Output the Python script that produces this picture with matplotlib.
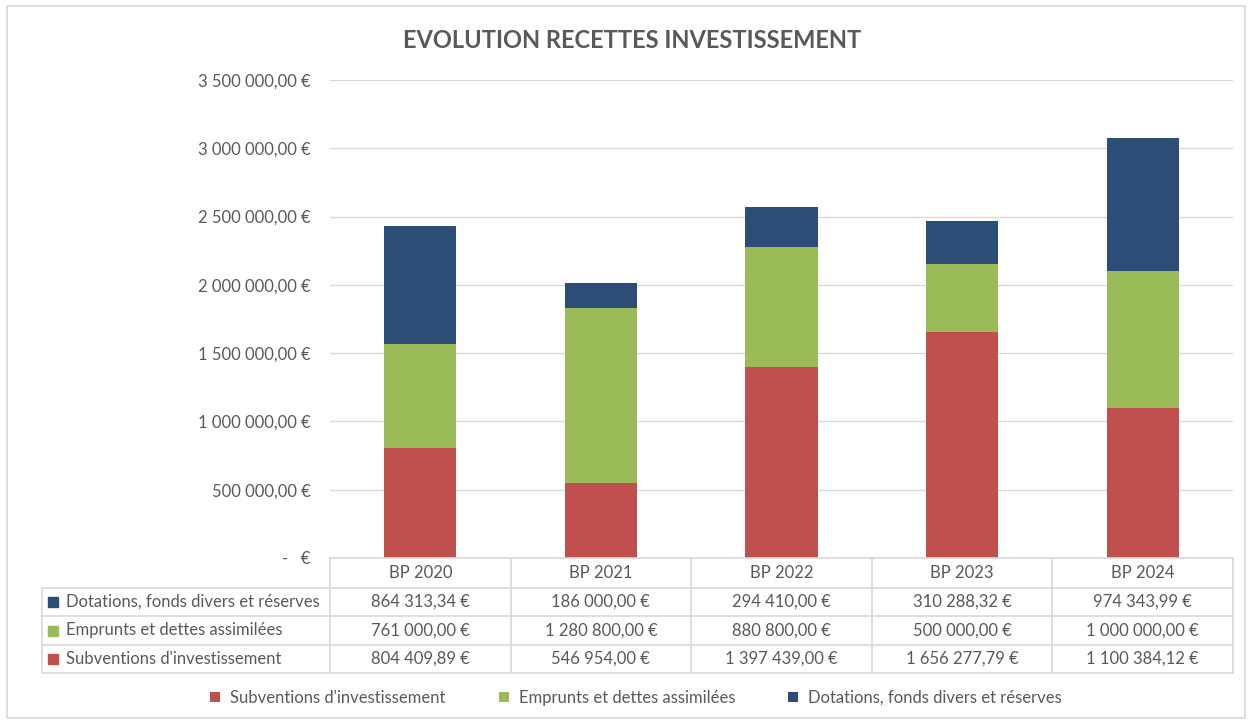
import numpy as np
import matplotlib
matplotlib.use("Agg")
import matplotlib.pyplot as plt
from matplotlib.patches import Rectangle
from matplotlib.ticker import FuncFormatter

plt.rcParams['font.family'] = ['Lato', 'DejaVu Sans']

years = ["BP 2020", "BP 2021", "BP 2022", "BP 2023", "BP 2024"]
subventions = [804409.89, 546954.00, 1397439.00, 1656277.79, 1100384.12]
emprunts = [761000.00, 1280800.00, 880800.00, 500000.00, 1000000.00]
dotations = [864313.34, 186000.00, 294410.00, 310288.32, 974343.99]

names = ["Subventions d'investissement", "Emprunts et dettes assimilées",
         "Dotations, fonds divers et réserves"]
colors = ["#C0504D", "#9BBB59", "#2C4D75"]
series = [subventions, emprunts, dotations]

txt = "#595959"
grid = "#D9D9D9"
fs = 12

W, H = 1252, 724
fig = plt.figure(figsize=(W / 100, H / 100), dpi=100)
fig.patches.append(Rectangle((7 / W, 6 / H), 1238 / W, 712 / H, transform=fig.transFigure,
                             fill=False, edgecolor=grid, lw=1.2))

ax = fig.add_axes([330 / W, (H - 558) / H, (1233 - 330) / W, (558 - 80) / H])
x = np.arange(len(years))
bottom = np.zeros(len(years))
for vals, c, n in zip(series, colors, names):
    ax.bar(x, vals, width=0.4, bottom=bottom, color=c, label=n, zorder=3)
    bottom += np.array(vals)

ax.set_xlim(-0.5, len(years) - 0.5)
ax.set_ylim(0, 3500000)
ax.set_yticks(np.arange(0, 3500001, 500000))


def fmt(v, pos=None):
    if v == 0:
        return "-   €"
    s = f"{v:,.2f}".replace(",", " ").replace(".", ",")
    return s + " €"


ax.yaxis.set_major_formatter(FuncFormatter(fmt))
ax.tick_params(axis='y', length=0, pad=14, labelsize=fs, labelcolor=txt)
ax.set_xticks([])
ax.grid(axis='y', color=grid, lw=1, zorder=0)
for s in ax.spines.values():
    s.set_visible(False)

fig.text(632 / W, 1 - 40 / H, "EVOLUTION RECETTES INVESTISSEMENT", ha='center', va='center',
         fontsize=17, fontweight='bold', color=txt)

# data table under the axis
rows_y = [558, 588, 616, 645, 673]
col_x = [42] + [330 + i * (1233 - 330) / len(years) for i in range(len(years) + 1)]


def fx(px):
    return px / W


def fy(py):
    return 1 - py / H


lk = dict(transform=fig.transFigure, color=grid, lw=1.2)
fig.add_artist(plt.Line2D([fx(330), fx(1233)], [fy(558), fy(558)], **lk))
for ry in rows_y[1:]:
    fig.add_artist(plt.Line2D([fx(42), fx(1233)], [fy(ry), fy(ry)], **lk))
fig.add_artist(plt.Line2D([fx(42), fx(42)], [fy(588), fy(673)], **lk))
for cx in col_x[1:]:
    fig.add_artist(plt.Line2D([fx(cx), fx(cx)], [fy(558), fy(673)], **lk))

for i, y in enumerate(years):
    cx = (col_x[i + 1] + col_x[i + 2]) / 2
    fig.text(fx(cx), fy((558 + 588) / 2), y, ha='center', va='center', fontsize=fs, color=txt)

table_rows = list(zip(series, colors, names))[::-1]
for r, (vals, c, n) in enumerate(table_rows):
    ry = (rows_y[r + 1] + rows_y[r + 2]) / 2
    fig.patches.append(Rectangle((fx(48), fy(ry + 5)), 10 / W, 10 / H, transform=fig.transFigure,
                                 color=c))
    fig.text(fx(66), fy(ry), n, ha='left', va='center', fontsize=fs, color=txt)
    for i, v in enumerate(vals):
        cx = (col_x[i + 1] + col_x[i + 2]) / 2
        fig.text(fx(cx), fy(ry), fmt(v), ha='center', va='center', fontsize=fs, color=txt)

ax.legend(loc='center', bbox_to_anchor=(0.508, fy(698)), bbox_transform=fig.transFigure,
          ncol=3, frameon=False, fontsize=fs, labelcolor=txt, handlelength=0.6,
          handleheight=0.6, columnspacing=3.2, handletextpad=0.6)

fig.savefig("out.png", dpi=100)
